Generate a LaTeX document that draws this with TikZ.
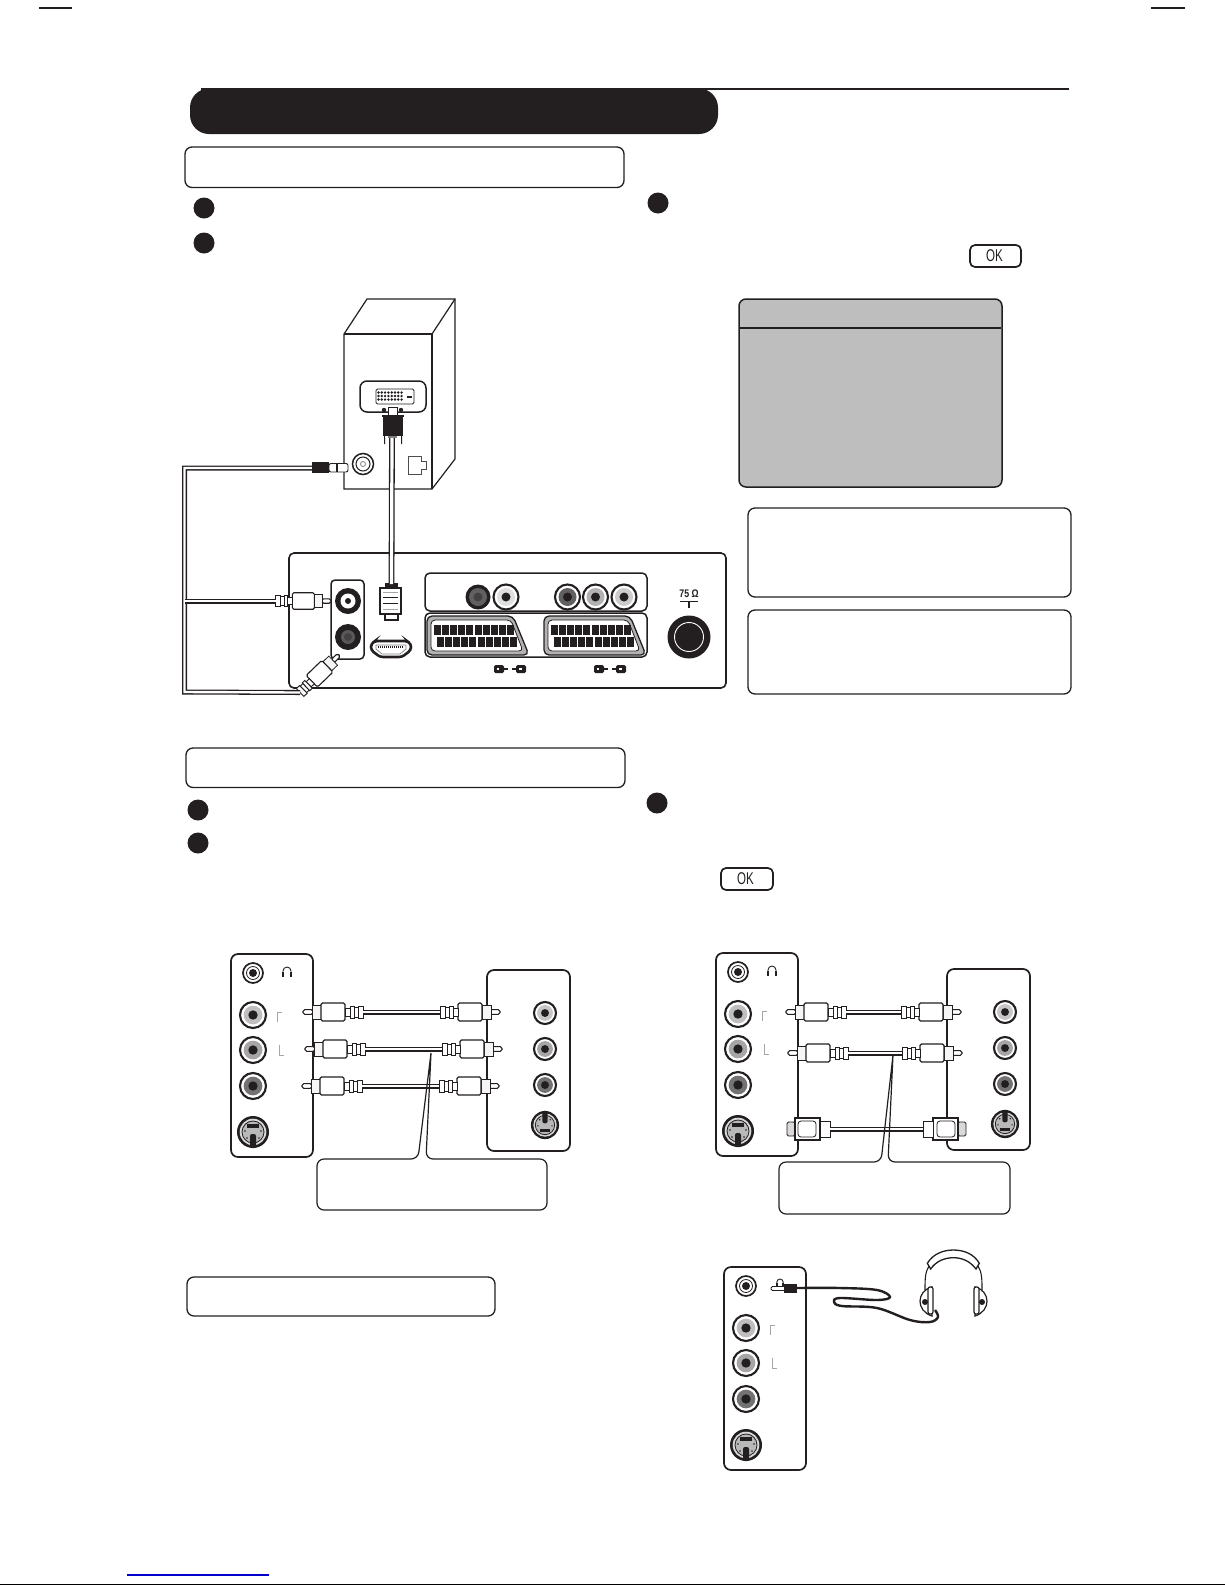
\documentclass[tikz,border=0pt]{standalone}
\usepackage{fontspec}
\setmainfont{Liberation Sans}
\definecolor{ink}{HTML}{231F20}
\definecolor{panelgray}{HTML}{BEBEBE}
\definecolor{linkblue}{HTML}{0000CC}
\tikzset{
  outline/.style={draw=ink,line width=1.3pt,rounded corners=7pt},
  bullet/.style={fill=ink},
  cable/.style={draw=ink,line width=1.3pt,double=white,double distance=2.4pt},
  thinbracket/.style={draw=gray!70,line width=.6pt},
  partline/.style={draw=ink,line width=1.1pt,fill=white},
  rcaplug/.pic={
    \draw[partline,rounded corners=1.8pt] (-10,-2.4) -- (0,-2.4) -- (0,2.4) -- (-10,2.4) -- cycle;
    \draw[partline,fill=gray!8,line width=.8pt] (-18,-7) rectangle (-9,7);
    \draw[partline,rounded corners=1.5pt] (-42,-9) rectangle (-18,9);
    \draw[partline,line width=.9pt] (-47,-4) rectangle (-42,4);
    \draw[partline,line width=.9pt] (-51,-6) rectangle (-47,6);
    \draw[partline,line width=.9pt] (-55,-5) rectangle (-51,5);
    \draw[partline,line width=.9pt] (-60,-6) rectangle (-55,6);
    \coordinate (-end) at (-60,0);
  },
  svplug/.pic={
    \draw[partline,fill=gray!30,rounded corners=1.5pt,line width=.9pt] (-8,-7) rectangle (0,7);
    \draw[partline] (-33,-11) rectangle (-8,11);
    \draw[partline,rounded corners=3pt,line width=.8pt] (-29,-8) rectangle (-11,8);
    \draw[partline,line width=.9pt] (-43,-8) rectangle (-33,8);
    \coordinate (-end) at (-43,0);
  },
  svideo/.pic={
    \fill[ink] (0,0) circle (16pt);
    \fill[gray!30] (0,0) circle (13.3pt);
    \draw[ink,line width=.8pt,fill=gray!55] (0,0) circle (11pt);
    \fill[ink] (-6,-8) rectangle (6,-4);
    \fill[ink,rounded corners=2pt] (-3,2) rectangle (3,16);
    \foreach \dx/\dy in {-8/-1,8/-1,-6/6,6/6} \fill[ink] (\dx,\dy) circle (.9pt);
  },
  scart/.pic={
    \draw[ink,line width=1.3pt,fill=gray!60,rounded corners=5pt] (0,0) -- (86,0) -- (102,39) -- (0,39) -- cycle;
    \draw[ink,line width=.8pt,fill=white,rounded corners=4pt] (4,4) -- (84,4) -- (96,35) -- (4,35) -- cycle;
    \foreach \i in {0,...,9} {
      \fill[ink] ({7+\i*8.1},9) rectangle ++(7,10);
      \fill[ink] ({10+\i*8.1},20.5) rectangle ++(7,10.5);
    }
  },
  headicon/.pic={
    \draw[ink,line width=.9pt] (-4,3) -- (-4,-1) arc[start angle=180,end angle=0,radius=4pt] -- (4,3);
    \fill[ink] (-5,0) rectangle (-3,5);
    \fill[ink] (3,0) rectangle (5,5);
  }
}
\newcommand{\jack}[4]{%
  \draw[ink,line width=2.1pt,fill=white] (#1,#2) circle (#4 pt);
  \fill[#3] (#1,#2) circle ({#4*0.72 pt});
  \fill[ink] (#1,#2) circle ({#4*0.36 pt});
}
\newcommand{\headjack}[2]{%
  \draw[ink,line width=1.7pt,fill=white] (#1,#2) circle (10pt);
  \draw[ink,line width=.8pt] (#1,#2) circle (6.5pt);
  \fill[ink] (#1,#2) circle (4pt);
}
\newcommand{\brackets}[4]{%
  \draw[thinbracket] (#1,#2+10) -- (#1,#2) -- (#1+5,#2);
  \draw[thinbracket] (#3,#4) -- (#3,#4+10) -- (#3+5,#4+10);
}
% side panel with the five jacks, origin at its top left corner
\newcommand{\frontpanel}[1]{%
  \draw[outline,line width=1.7pt,fill=white] (0,0) rectangle (82,203);
  \headjack{22}{19}
  \jack{22}{61}{gray!50}{13}
  \jack{22}{96}{gray!70}{13}
  \jack{22}{132}{gray!90!black}{13}
  \pic at (22,178) {svideo};
  \brackets{46}{58}{48}{91}
  #1
}
\newcommand{\sidepanel}{%
  \draw[outline,line width=1.7pt,fill=white] (0,0) rectangle (83,181);
  \jack{58}{43}{gray!45}{11}
  \jack{58}{79}{gray!70}{11}
  \jack{58}{115}{gray!90!black}{11}
  \pic[xscale=.88,yscale=-.88] at (58,155) {svideo};
}
\begin{document}
\begin{tikzpicture}[x=1pt,y=-1pt]
\useasboundingbox (0,0) rectangle (1225,1585);
\fill[white] (0,0) rectangle (1225,1585);
% crop marks and foot rules
\fill[ink] (39,7.2) rectangle (72,8.8);
\fill[ink] (1151,7.2) rectangle (1185,8.8);
\fill[linkblue] (127,1574.3) rectangle (269,1575.7);
\fill[black] (0,1583.5) rectangle (1225,1585);
% header
\fill[ink] (201,88) rectangle (1069,90);
\fill[ink,rounded corners=19pt] (190,88.5) rectangle (718,134);
\draw[outline] (185,147) rectangle (624,187.5);
\draw[outline] (186,748) rectangle (625,787.5);
\draw[outline] (187,1277) rectangle (495,1316);
% bullets
\foreach \bx/\by in {204/208,204/243,658/203,198/810,198/843,657/803}
  \fill[bullet] (\bx,\by) circle (10.5pt);
% OK keys
\draw[outline,rounded corners=5pt,line width=1.7pt] (970,245) rectangle (1021,267);
\node[inner sep=0pt,text=ink] (okone) at (994.5,256) {\fontsize{17}{17}\selectfont\scalebox{.68}[1]{OK}};
\draw[outline,rounded corners=5pt,line width=1.7pt] (721,868) rectangle (773,890);
\node[inner sep=0pt,text=ink] (oktwo) at (745.5,879) {\fontsize{17}{17}\selectfont\scalebox{.68}[1]{OK}};
% gray menu
\draw[outline,fill=panelgray,line width=1.5pt] (739,299) rectangle (1002,487);
\draw[ink,line width=1.7pt] (740,328) -- (1001,328);
\draw[outline] (748,508) rectangle (1071,597);
\draw[outline] (748,610) rectangle (1071,694);

% --- computer ---
\draw[ink,line width=1.2pt,fill=white] (344,334) -- (367,299) -- (455,299) -- (455,459) -- (432,489) -- (344,489) -- cycle;
\draw[ink,line width=1.2pt] (344,334) -- (432,334) -- (432,489);
\draw[ink,line width=1.2pt] (432,334) -- (455,299);
\draw[outline,line width=1.5pt,fill=white] (360,381) rectangle (426,412);
\draw[ink,line width=.9pt,rounded corners=1.5pt] (376,389) rectangle (414,404);
\foreach \i in {0,...,7} \foreach \j in {0,1,2}
  \fill[ink] ({378.5+\i*3.3},{392.5+\j*3.5}) circle (1.35pt);
\fill[ink] (407,396) rectangle (412,398.2);
% DVI plug
\draw[partline,line width=.8pt] (388,407) rectangle (397,417);
\fill[ink] (384,410) circle (2.2pt) (401,410) circle (2.2pt);
\fill[ink] (382,415) rectangle (404,417);
\fill[ink] (383,417) rectangle (403,436);
\fill[ink] (384,436) rectangle (385.2,444) (401,436) rectangle (402.2,444);
\fill[gray] (388,436) rectangle (397,438);
\coordinate (dviend) at (392,438);
% coax + LAN on computer
\draw[ink,line width=1.5pt,fill=white] (363,464) circle (10.5pt);
\draw[ink,line width=1pt] (363,464) circle (7pt);
\draw[gray,line width=.8pt] (363,464) circle (2.5pt);
\draw[ink!80,line width=.8pt] (408,456) -- (421,456) -- (421,461) -- (426,461) -- (426,469) -- (421,469) -- (421,474) -- (408,474) -- cycle;

% --- TV back panel ---
\draw[outline,line width=1.6pt,rounded corners=5pt,fill=white] (289,553) rectangle (726,688);
\draw[outline,rounded corners=4pt,line width=1.5pt] (331,580) rectangle (364,659);
\fill[ink] (348,601) circle (13pt);
\fill[white] (348,601) circle (7.5pt);
\fill[ink] (348,601) circle (3pt);
\fill[ink] (348,637) circle (13pt);
\fill[gray!70!black] (348,637) circle (7pt);
\fill[ink!85] (348,637) circle (4pt);
% HDMI socket
\draw[ink,line width=2.6pt,fill=white,rounded corners=3pt] (371,644) -- (375,641) -- (407,641) -- (411,644) -- (411,650) -- (402,657) -- (380,657) -- (371,650) -- cycle;
\draw[gray,line width=.7pt] (376,645) -- (406,645) -- (406,649) -- (400,654) -- (382,654) -- (376,649) -- cycle;
\draw[ink,line width=1.5pt,dash pattern=on 1pt off 1pt] (378,647) -- (404,647);
% AV box
\draw[outline,line width=1.5pt,rounded corners=5pt] (425,573) rectangle (647,611);
\fill[ink] (478,597) circle (12.5pt);
\fill[gray!75!black] (478,597) circle (9pt);
\fill[ink!85] (478,597) circle (4.5pt);
\jack{506}{597}{gray!25}{12.5}
\jack{567.5}{597}{gray!75!black}{12.5}
\jack{595.5}{597}{gray!60}{12.5}
\jack{624}{597}{gray!40}{12.5}
% scart box
\draw[outline,line width=1.5pt,rounded corners=5pt] (425,613) rectangle (647,657);
\pic (scartone) at (427,616) {scart};
\pic (scarttwo) at (544,616) {scart};
% small icons
\foreach \ox in {494,594} {
  \fill[ink,rounded corners=1.5pt] (\ox,665) rectangle (\ox+10,673);
  \fill[white] (\ox+3,668.3) rectangle (\ox+5,669.7);
  \fill[ink] (\ox+10,668.2) rectangle (\ox+14,669.8);
  \fill[ink] (\ox+18,668.2) rectangle (\ox+22,669.8);
  \fill[ink,rounded corners=1.5pt] (\ox+22,665) rectangle (\ox+32,673);
  \fill[white] (\ox+25,668.3) rectangle (\ox+28,669.7);
}
% antenna
\node[inner sep=0pt,text=ink] (ohms) at (689,594) {\fontsize{11}{11}\selectfont\bfseries\scalebox{.8}[1]{75 Ω}};
\fill[ink] (680,601) rectangle (698,602.4);
\fill[ink] (688,602) rectangle (690.4,608);
\fill[ink] (689,637) circle (21.5pt);
\draw[white,line width=.9pt] (689,637) circle (14.5pt);

% HDMI plug and cable
\fill[ink] (385,583) rectangle (398,588);
\coordinate (hdmitop) at (391.5,584);
\draw[partline] (380,588) rectangle (401,614);
\draw[gray!70,line width=.9pt] (383,592) -- (398,592) (383,609) -- (398,609);
\draw[ink,line width=.9pt] (383,597) -- (398,597) (383,603) -- (398,603);
\draw[partline] (385,614) rectangle (398,620);
\draw[cable,double distance=3.2pt] (dviend) -- (hdmitop);

% audio cable loop
\coordinate (miniend) at (312,468);
\coordinate (loopa) at (184.5,468);
\coordinate (loopb) at (184.5,692);
\coordinate (loopc) at (184.5,601);
\pic[scale=.92] (audiotop) at (331,601) {rcaplug};
\pic[rotate=44,scale=.9] (audiolow) at (339,655) {rcaplug};
\draw[cable] (miniend) -- (loopa) -- (loopb) -- (audiolow-end);
\draw[cable] (loopc) -- (audiotop-end);
\fill[ink] (312,462) rectangle (329,473);
\draw[partline,line width=.9pt,rounded corners=2pt] (329,463.5) rectangle (348,472);
\fill[ink] (336,463.5) rectangle (338,472);

% --- left connection figure ---
\begin{scope}[shift={(231,954)}]\frontpanel{\pic at (56,18) {headicon};}\end{scope}
\begin{scope}[shift={(487,970)}]\sidepanel\end{scope}
\foreach \nm/\yy/\lx/\rx in {a/1012/303/500,b/1049/305/502,c/1086/302/499} {
  \pic[rotate=180] (l\nm) at (\lx,\yy) {rcaplug};
  \pic (r\nm) at (\rx,\yy) {rcaplug};
  \draw[cable] (l\nm-end) -- (r\nm-end);
}
\draw[ink,line width=1.2pt,rounded corners=7pt] (431,1053) -- (418,1159) -- (317,1159) -- (317,1210) -- (547,1210) -- (547,1159) -- (426,1159) -- (431,1053);

% --- right connection figure ---
\begin{scope}[shift={(716,953)}]\frontpanel{\pic at (56,18) {headicon};}\end{scope}
\begin{scope}[shift={(947,969)}]\sidepanel\end{scope}
\foreach \nm/\yy/\lx/\rx in {d/1012/786/961,e/1053/788/962} {
  \pic[rotate=180] (l\nm) at (\lx,\yy) {rcaplug};
  \pic (r\nm) at (\rx,\yy) {rcaplug};
  \draw[cable] (l\nm-end) -- (r\nm-end);
}
\pic[rotate=180] (lsv) at (787,1129) {svplug};
\pic (rsv) at (966,1129) {svplug};
\draw[cable] (lsv-end) -- (rsv-end);
\draw[ink,line width=1.2pt,rounded corners=7pt] (893,1055) -- (881,1162) -- (779,1162) -- (779,1214) -- (1010,1214) -- (1010,1162) -- (888,1162) -- (893,1055);

% --- headphones figure ---
\begin{scope}[shift={(724,1267)}]\frontpanel{}\end{scope}
\pic[scale=.8,gray!70] (hicon) at (780,1283) {headicon};
\coordinate (phoneplug) at (797,1288);
\coordinate (phonecup) at (935,1310);
\draw[partline,line width=.8pt,rounded corners=1.5pt] (771,1286.5) rectangle (786,1290.5);
\fill[ink] (784,1284) rectangle (797,1293);
\draw[ink,line width=2.4pt] plot[smooth,tension=.6] coordinates {(phoneplug) (840,1288) (877,1290) (890,1297) (877,1300) (840,1298) (834,1302) (842,1306) (877,1308) (910,1320) (930,1322) (938,1317) (phonecup)};
\draw[ink,line width=1.1pt] (925,1290) .. controls (925,1280) and (925,1272) .. (929,1266);
\draw[ink,line width=1.1pt] (982,1290) .. controls (982,1280) and (982,1272) .. (978,1266);
\draw[ink,line width=1.3pt,fill=white] (927.3,1263.3) .. controls (933,1254) and (943,1250) .. (953.3,1250) .. controls (964,1250) and (974,1254) .. (979.3,1263.3) -- (976,1269) .. controls (970,1261) and (962,1257.7) .. (953.3,1257.7) .. controls (945,1257.7) and (936,1261) .. (930.7,1269) -- cycle;
\draw[ink,line width=1.2pt,fill=white] (932,1287) .. controls (916,1291) and (916,1311) .. (932,1316) -- cycle;
\draw[ink,line width=1.2pt,fill=white,rounded corners=2pt] (928,1287) rectangle (933,1314);
\fill[ink] (925,1302) circle (3pt);
\draw[ink,line width=1.2pt,fill=white] (975,1287) .. controls (991,1291) and (991,1311) .. (975,1316) -- cycle;
\draw[ink,line width=1.2pt,fill=white,rounded corners=2pt] (974,1287) rectangle (979,1314);
\fill[ink] (982,1302) circle (3pt);
\end{tikzpicture}
\end{document}
